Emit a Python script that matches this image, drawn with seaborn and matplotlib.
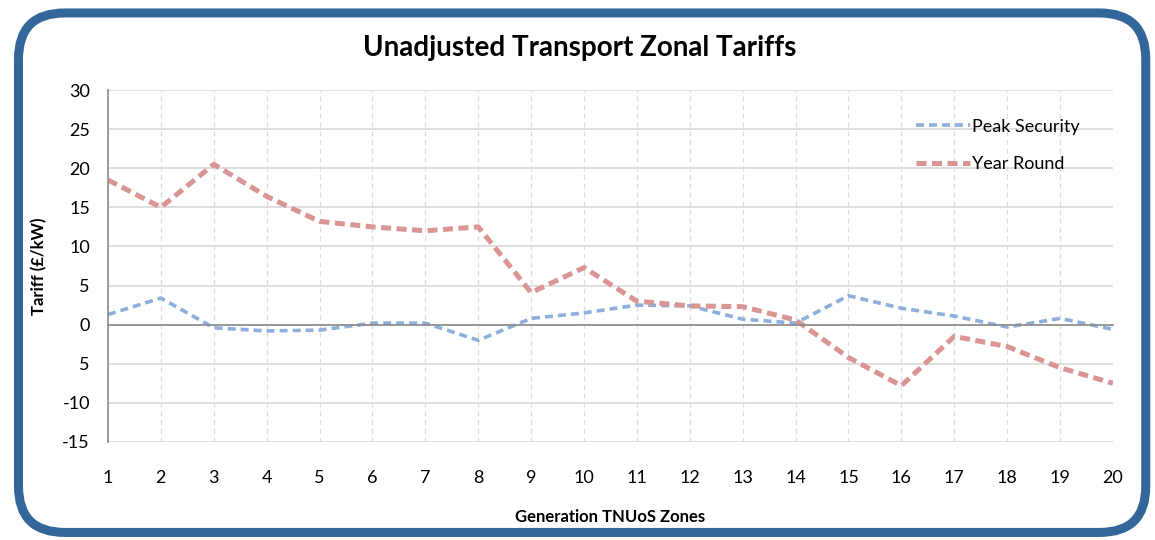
import pandas as pd
import numpy as np
import seaborn as sns
import matplotlib.pyplot as plt
from matplotlib.patches import FancyBboxPatch


zones = list(range(1, 21))
peak_security = [1.3, 3.4, -0.4, -0.8, -0.7, 0.2, 0.2, -2.0, 0.8, 1.5,
                 2.5, 2.4, 0.7, 0.2, 3.7, 2.1, 1.1, -0.3, 0.8, -0.6]
year_round = [18.5, 15.0, 20.5, 16.4, 13.2, 12.5, 12.0, 12.5, 4.1, 7.3,
              3.0, 2.4, 2.3, 0.6, -4.2, -7.8, -1.5, -2.8, -5.5, -7.5]
y_ticks = [30, 25, 20, 15, 10, 5, 0, -5, -10, -15]
y_tick_labels = ['30', '25', '20', '15', '10', '5', '0', '5', '-10', '-15']

BLUE = '#8eaedb'
RED = '#d99594'
BORDER = '#336699'

sns.set_style("white")
plt.rcParams['font.family'] = ['Lato', 'DejaVu Sans']
plt.rcParams['text.color'] = 'black'
plt.rcParams['axes.labelcolor'] = 'black'
plt.rcParams['xtick.color'] = 'black'
plt.rcParams['ytick.color'] = 'black'

df = pd.DataFrame({'zone': zones * 2,
                   'tariff': peak_security + year_round,
                   'series': ['Peak Security'] * 20 + ['Year Round'] * 20})

fig = plt.figure(figsize=(11.55, 5.4), dpi=100)
ax = fig.add_axes([0.0935, 0.1815, 0.8701, 0.6518])

# rounded frame round the whole chart
frame = FancyBboxPatch((0.016, 0.014), 0.976, 0.962,
                       boxstyle='round,pad=0,rounding_size=0.04',
                       transform=fig.transFigure, fill=False,
                       edgecolor=BORDER, linewidth=6.5, mutation_aspect=2.14)
fig.patches.append(frame)

ps = df[df['series'] == 'Peak Security']
yr = df[df['series'] == 'Year Round']
sns.lineplot(data=ps, x='zone', y='tariff', color=BLUE, linewidth=2.6,
             ax=ax, label='Peak Security')
sns.lineplot(data=yr, x='zone', y='tariff', color=RED, linewidth=3.6,
             ax=ax, label='Year Round')
ax.lines[0].set_dashes((2.2, 1.4))
ax.lines[1].set_dashes((2.0, 1.1))

ax.set_xlim(1, 20)
ax.set_ylim(-15, 30)
ax.set_yticks(y_ticks)
ax.set_yticklabels(y_tick_labels)
ax.set_xticks(zones)

ax.grid(axis='y', color='#d9d9d9', linewidth=1.2, linestyle='-')
ax.grid(axis='x', color='#dcdcdc', linewidth=0.9, linestyle=(0, (4, 3)))
ax.set_axisbelow(True)

for s in ['top', 'right']:
    ax.spines[s].set_visible(False)
ax.spines['left'].set_color('#8c8c8c')
ax.spines['left'].set_linewidth(1.2)
ax.spines['bottom'].set_position(('data', 0))
ax.spines['bottom'].set_color('#8c8c8c')
ax.spines['bottom'].set_linewidth(1.2)

ax.tick_params(axis='y', length=5, color='#8c8c8c', labelsize=13, pad=8)
ax.tick_params(axis='x', length=6, color='#8c8c8c', labelsize=13, pad=99)

ax.set_xlabel('Generation TNUoS Zones', fontsize=12, fontweight='bold')
ax.set_ylabel('Tariff (£/kW)', fontsize=12, fontweight='bold')
ax.xaxis.set_label_coords(0.5, -0.19)
ax.yaxis.set_label_coords(-0.06, 0.5)

fig.suptitle('Unadjusted Transport Zonal Tariffs', fontsize=20,
             fontweight='bold', x=0.502, y=0.935)

ax.legend(loc='upper right', bbox_to_anchor=(0.983, 0.965), frameon=False,
          fontsize=13, handlelength=3.0, handletextpad=0.1, labelspacing=1.2)

fig.savefig('out.png', dpi=100)
